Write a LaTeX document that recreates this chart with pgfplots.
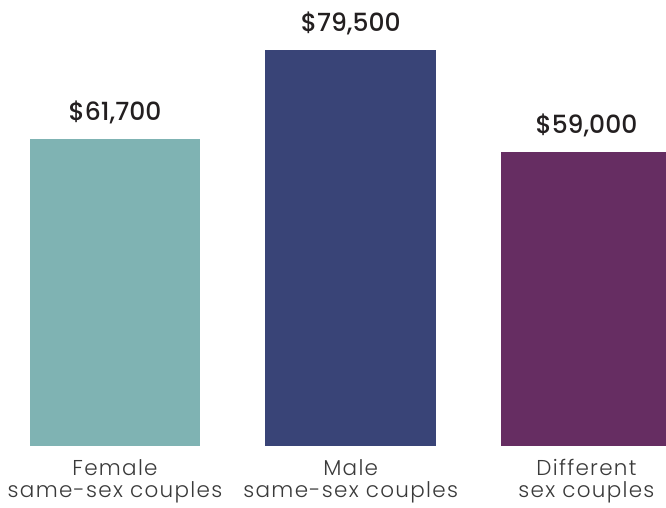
\documentclass[border=0pt]{standalone}
\usepackage{fontspec}
\setmainfont{Poppins}
\newfontfamily\lightfont[LetterSpace=6]{Poppins Light}
\newfontfamily\medfont{Poppins Medium}
\usepackage{pgfplots}
\pgfplotsset{compat=1.18}
\definecolor{teal1}{HTML}{7FB3B3}
\definecolor{navy1}{HTML}{394477}
\definecolor{purp1}{HTML}{662D62}
\definecolor{txt}{HTML}{231F20}
\definecolor{lbl}{HTML}{3A3A3A}
\begin{document}
\begin{tikzpicture}
\begin{axis}[
  scale only axis, width=666pt, height=508pt,
  xmin=-0.4879, xmax=2.3377, ymin=-12563, ymax=89551,
  axis lines=none, xtick=\empty, ytick=\empty,
  ybar, bar width=170.5pt,
  clip=true,
  point meta=y,
  /pgf/number format/assume math mode=true,
  /pgf/number format/.cd, fixed, 1000 sep={,}, /pgfplots/.cd,
  nodes near coords={\$\pgfmathprintnumber{\pgfplotspointmeta}},
  nodes near coords style={font=\medfont\fontsize{25}{30}\selectfont, text=txt, anchor=base, yshift=18pt, inner sep=0pt},
]
\addplot[fill=teal1, draw=none, bar shift=0pt] coordinates {(0,61700)};
\addplot[fill=navy1, draw=none, bar shift=0pt] coordinates {(1,79500)};
\addplot[fill=purp1, draw=none, bar shift=0pt] coordinates {(2,59000)};
\begin{scope}[every node/.style={font=\lightfont\fontsize{21.5}{26}\selectfont, text=lbl, anchor=base, inner sep=0pt}]
\node at (axis cs:0,0) [yshift=-30pt] {Female};
\node at (axis cs:0,0) [yshift=-51.5pt] {same-sex couples};
\node at (axis cs:1,0) [yshift=-30pt] {Male};
\node at (axis cs:1,0) [yshift=-51.5pt] {same-sex couples};
\node at (axis cs:2,0) [yshift=-30pt] {Different};
\node at (axis cs:2,0) [yshift=-51.5pt] {sex couples};
\end{scope}
\end{axis}
\pgfresetboundingbox
\useasboundingbox (current axis.south west) rectangle (current axis.north east);
\end{tikzpicture}
\end{document}
